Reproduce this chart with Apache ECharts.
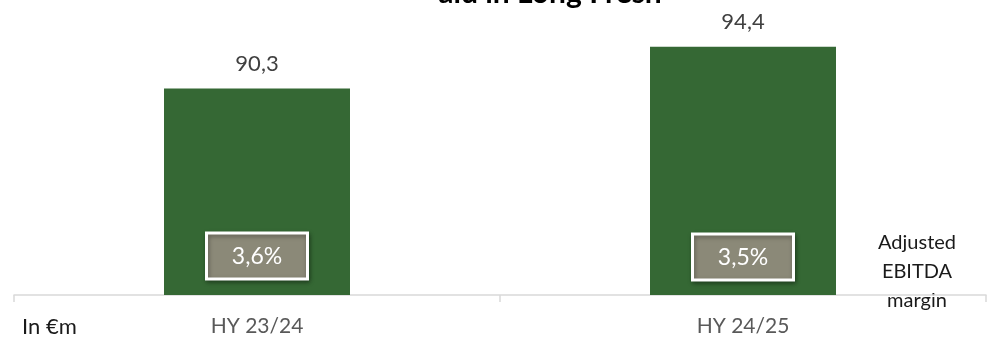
<!DOCTYPE html>
<html>
<head>
<meta charset="utf-8">
<script src="https://cdn.jsdelivr.net/npm/echarts@6/dist/echarts.min.js"></script>
<style>
  html, body { margin: 0; padding: 0; background: #ffffff; }
  #chart { width: 989px; height: 342px; }
</style>
</head>
<body>
<div id="chart"></div>
<script>
// Half-year periods and adjusted EBITDA (in €m) with its margin
const categories = ['HY 23/24', 'HY 24/25'];
const ebitdaValues = [90.3, 94.4];
const marginValues = [3.6, 3.5];
const titleText = 'ald in Long Fresh';
const unitText = 'In €m';
const marginCaption = 'Adjusted\nEBITDA\nmargin';

const fmtComma = (v, digits) => v.toFixed(digits).replace('.', ',');

const chart = echarts.init(document.getElementById('chart'), null, { renderer: 'canvas' });

const textFont = 'Lato, "Noto Sans", "Liberation Sans", sans-serif';

// Margin badge: a bordered grey box with the percentage, anchored at the margin value
function renderMarginBadge(params, api) {
  const pt = api.coord([api.value(0), api.value(1)]);
  const w = 101, h = 46;
  const cx = pt[0], cy = pt[1] - 3;
  return {
    type: 'group',
    children: [
      {
        type: 'rect',
        shape: { x: cx - w / 2, y: cy - h / 2, width: w, height: h },
        style: {
          fill: '#8b8978',
          stroke: '#ffffff',
          lineWidth: 3,
          shadowColor: 'rgba(0,0,0,0.35)',
          shadowBlur: 4,
          shadowOffsetX: 1,
          shadowOffsetY: 2
        }
      },
      {
        type: 'text',
        x: cx,
        y: cy + 1,
        style: {
          text: fmtComma(api.value(1), 1) + '%',
          textAlign: 'center',
          textVerticalAlign: 'middle',
          fill: '#ffffff',
          fontSize: 23,
          fontFamily: textFont
        }
      }
    ]
  };
}

chart.setOption({
  animation: false,
  backgroundColor: '#ffffff',
  grid: { left: 14, right: 3, top: 0, bottom: 47, containLabel: false },
  xAxis: {
    type: 'category',
    data: categories,
    boundaryGap: true,
    axisLine: { show: true, lineStyle: { color: '#d9d9d9', width: 1.5 } },
    axisTick: { show: true, length: 7, lineStyle: { color: '#d9d9d9', width: 1.5 } },
    axisLabel: { color: '#595959', fontSize: 21, fontFamily: textFont, margin: 21 }
  },
  yAxis: [
    { type: 'value', min: 70, max: 99, show: false, splitLine: { show: false } },
    { type: 'value', min: 0, max: 29.5, show: false, splitLine: { show: false } }
  ],
  series: [
    {
      name: 'Adjusted EBITDA',
      type: 'bar',
      data: ebitdaValues,
      barWidth: 186,
      itemStyle: { color: '#356834' },
      label: {
        show: true,
        position: 'top',
        distance: 14,
        color: '#404040',
        fontSize: 22,
        fontFamily: textFont,
        formatter: p => fmtComma(p.value, 1)
      }
    },
    {
      name: 'Adjusted EBITDA margin',
      type: 'custom',
      yAxisIndex: 1,
      data: marginValues.map((v, i) => [i, v]),
      encode: { x: 0, y: 1 },
      renderItem: renderMarginBadge,
      z: 5
    }
  ],
  graphic: [
    {
      type: 'text',
      x: 550,
      y: 8,
      style: {
        text: titleText,
        textAlign: 'center',
        textVerticalAlign: 'bottom',
        fontSize: 30,
        fontWeight: 'bold',
        fontFamily: textFont,
        fill: '#000000'
      }
    },
    {
      type: 'text',
      x: 22,
      y: 327,
      style: {
        text: unitText,
        textVerticalAlign: 'middle',
        fontSize: 22,
        fontFamily: textFont,
        fill: '#1a1a1a'
      }
    },
    {
      type: 'text',
      x: 917,
      y: 272,
      style: {
        text: marginCaption,
        fontSize: 20,
        lineHeight: 29,
        textAlign: 'center',
        textVerticalAlign: 'middle',
        fontFamily: textFont,
        fill: '#1a1a1a'
      }
    }
  ]
});
</script>
</body>
</html>
